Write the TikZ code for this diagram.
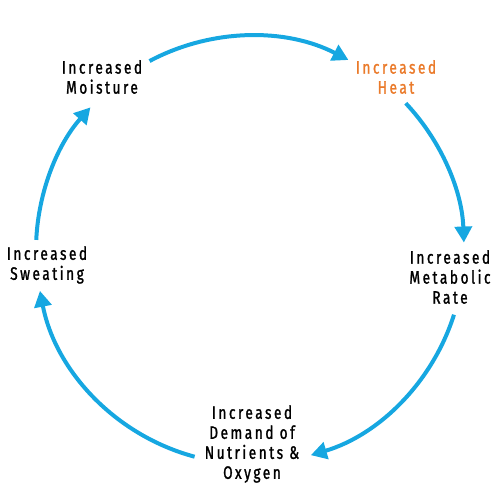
\documentclass[tikz,border=0pt]{standalone}
\usepackage{fontspec}
\setmainfont{Fira Sans}[FakeStretch=0.76, LetterSpace=14, FakeBold=1.3]
\usetikzlibrary{arrows.meta}
\definecolor{cycblue}{RGB}{22,167,225}
\definecolor{heatorange}{RGB}{234,122,42}

\begin{document}
\begin{tikzpicture}[x=1pt, y=1pt,
  lbl/.style={align=center, font=\fontsize{18}{20}\selectfont},
  cyc/.style={cycblue, line width=4pt, -{Triangle[length=16pt, width=17pt]}}]
  \useasboundingbox (0,0) rectangle (500,500);
  \coordinate (ctr) at (250,250);

  % Labels
  \node[lbl] (moist) at (102,423) {Increased\\Moisture};
  \node[lbl, text=heatorange] (heat) at (396,423) {Increased\\Heat};
  \node[lbl] (metab) at (450,223) {Increased\\Metabolic\\Rate};
  \node[lbl] (demand) at (252,56) {Increased\\Demand of\\Nutrients \&\\Oxygen};
  \node[lbl] (sweat) at (47,235) {Increased\\Sweating};

  % Cycle arrows
  \draw[cyc] ([shift={(118:214)}]ctr) arc[start angle=118, end angle=62.6, radius=214];
  \draw[cyc] ([shift={(43.3:214)}]ctr) arc[start angle=43.3, end angle=2, radius=214];
  \draw[cyc] ([shift={(-17.6:214)}]ctr) arc[start angle=-17.6, end angle=-73.5, radius=214];
  \draw[cyc] ([shift={(-105:214)}]ctr) arc[start angle=-105, end angle=-169, radius=214];
  \draw[cyc] ([shift={(177.3:214)}]ctr) arc[start angle=177.3, end angle=138.2, radius=214];
\end{tikzpicture}
\end{document}
